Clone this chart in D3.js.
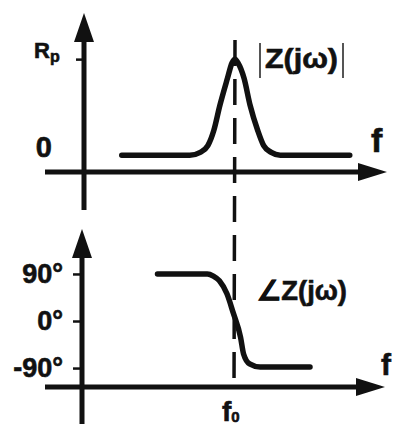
<!DOCTYPE html>
<html>
<head>
<meta charset="utf-8">
<script src="https://cdn.jsdelivr.net/npm/d3@7"></script>
<style>
  body { margin: 0; background: #fff; }
  text { font-family: "Liberation Sans", Arial, sans-serif; font-weight: bold; fill: #111; stroke: #111; stroke-width: 0.6; }
</style>
</head>
<body>
<svg id="chart" width="395" height="428"></svg>
<script>
// data (f normalised to f0)
const f0 = 1;
const freqMag = [0.25, 0.70, 0.77, 0.82, 0.86, 0.90, 0.95, 0.98, 1.0, 1.02, 1.06, 1.10, 1.15, 1.19, 1.24, 1.30, 1.76];
const magnitude = [0, 0, 0.03, 0.10, 0.26, 0.52, 0.80, 0.96, 1.0, 0.96, 0.80, 0.52, 0.26, 0.10, 0.03, 0, 0];
const freqPhase = [0.50, 0.83, 0.87, 0.91, 0.96, 1.0, 1.05, 1.07, 1.11, 1.18, 1.51];
const phase = [90, 90, 86, 77, 52, 17, -31, -63, -82, -88, -88];
const phaseTicks = [90, 0, -90];
const phaseTickLabels = ["90°", "0°", "-90°"];

const svg = d3.select("#chart");
const INK = "#111";

// scales, one pair per panel (the scan is slightly skewed)
const xTop = d3.scaleLinear().domain([0, 2]).range([84, 386]);
const yTop = d3.scaleLinear().domain([-0.57, 1.48]).range([210, 13]);
const xBot = d3.scaleLinear().domain([0, 2]).range([82, 384]);
const yBot = d3.scaleLinear().domain([-197, 176]).range([424, 229]);

const topAxisY = 172, botAxisY = 387;

function drawAxes(x, y, axisY) {
    const x0 = x(0);
    // vertical axis
    svg.append("line")
        .attr("x1", x0).attr("x2", x0)
        .attr("y1", y.range()[1] + 20).attr("y2", y.range()[0])
        .attr("stroke", INK).attr("stroke-width", 5);
    svg.append("path")
        .attr("d", `M${x0},${y.range()[1]} L${x0 - 10},${y.range()[1] + 29} L${x0 + 10},${y.range()[1] + 29} Z`)
        .attr("fill", INK);
    // horizontal axis
    const tip = x(2) + 1;
    svg.append("line")
        .attr("x1", 45).attr("x2", tip - 20)
        .attr("y1", axisY).attr("y2", axisY)
        .attr("stroke", INK).attr("stroke-width", 5);
    svg.append("path")
        .attr("d", `M${tip},${axisY} L${tip - 29},${axisY - 9} L${tip - 29},${axisY + 9} Z`)
        .attr("fill", INK);
}

drawAxes(xTop, yTop, topAxisY);
drawAxes(xBot, yBot, botAxisY);

// tick marks
const tickTop = svg.append("g")
    .attr("transform", `translate(${xTop(0)},0)`)
    .call(d3.axisLeft(yTop).tickValues([1]).tickSize(8).tickFormat(""));
const tickBot = svg.append("g")
    .attr("transform", `translate(${xBot(0)},0)`)
    .call(d3.axisLeft(yBot).tickValues(phaseTicks).tickSize(9).tickFormat(""));
[tickTop, tickBot].forEach(g => {
    g.select(".domain").remove();
    g.selectAll(".tick line").attr("stroke", INK).attr("stroke-width", 2.5);
});

// dashed f0 line
svg.append("line")
    .attr("x1", xTop(f0)).attr("y1", 40)
    .attr("x2", xBot(f0) + 1).attr("y2", 390)
    .attr("stroke", INK).attr("stroke-width", 3.5)
    .attr("stroke-dasharray", "26,13");

// curves
const magLine = d3.line()
    .x((d, i) => xTop(freqMag[i]))
    .y(d => yTop(d))
    .curve(d3.curveMonotoneX);
svg.append("path")
    .attr("d", magLine(magnitude))
    .attr("fill", "none").attr("stroke", INK)
    .attr("stroke-width", 5.5).attr("stroke-linecap", "round").attr("stroke-linejoin", "round");

const phaseLine = d3.line()
    .x((d, i) => xBot(freqPhase[i]))
    .y(d => yBot(d))
    .curve(d3.curveMonotoneX);
svg.append("path")
    .attr("d", phaseLine(phase))
    .attr("fill", "none").attr("stroke", INK)
    .attr("stroke-width", 5.5).attr("stroke-linecap", "round").attr("stroke-linejoin", "round");

// y labels, top panel
const rp = svg.append("text")
    .attr("x", 34).attr("y", yTop(1) - 1).attr("font-size", 22);
rp.append("tspan").text("R");
rp.append("tspan").attr("font-size", 16).attr("dy", 4).text("p");

svg.append("text")
    .attr("x", 52).attr("y", yTop(0) + 2)
    .attr("text-anchor", "end").attr("font-size", 29)
    .text("0");

// y labels, bottom panel
svg.selectAll("text.phase")
    .data(phaseTicks)
    .join("text")
    .attr("class", "phase")
    .attr("x", xBot(0) - 19)
    .attr("y", d => yBot(d) + 9)
    .attr("text-anchor", "end")
    .attr("font-size", 27)
    .text((d, i) => phaseTickLabels[i]);

// f labels
svg.append("text").attr("x", 371).attr("y", 152).attr("font-size", 34).text("f");
svg.append("text").attr("x", 381).attr("y", 375).attr("font-size", 30).text("f");
const f0Label = svg.append("text").attr("x", 222).attr("y", 421).attr("font-size", 28);
f0Label.append("tspan").text("f");
f0Label.append("tspan").attr("font-size", 15).attr("dy", 1).text("0");

// series labels
svg.append("text")
    .attr("x", 265).attr("y", 68).attr("font-size", 27)
    .attr("textLength", 73).attr("lengthAdjust", "spacingAndGlyphs")
    .text("Z(jω)");
[260, 343].forEach(bx => {
    svg.append("line")
        .attr("x1", bx).attr("x2", bx).attr("y1", 43).attr("y2", 78)
        .attr("stroke", "#555").attr("stroke-width", 2);
});
svg.append("text")
    .attr("x", 257).attr("y", 300).attr("font-size", 27)
    .attr("textLength", 90).attr("lengthAdjust", "spacingAndGlyphs")
    .text("∠Z(jω)");
</script>
</body>
</html>
